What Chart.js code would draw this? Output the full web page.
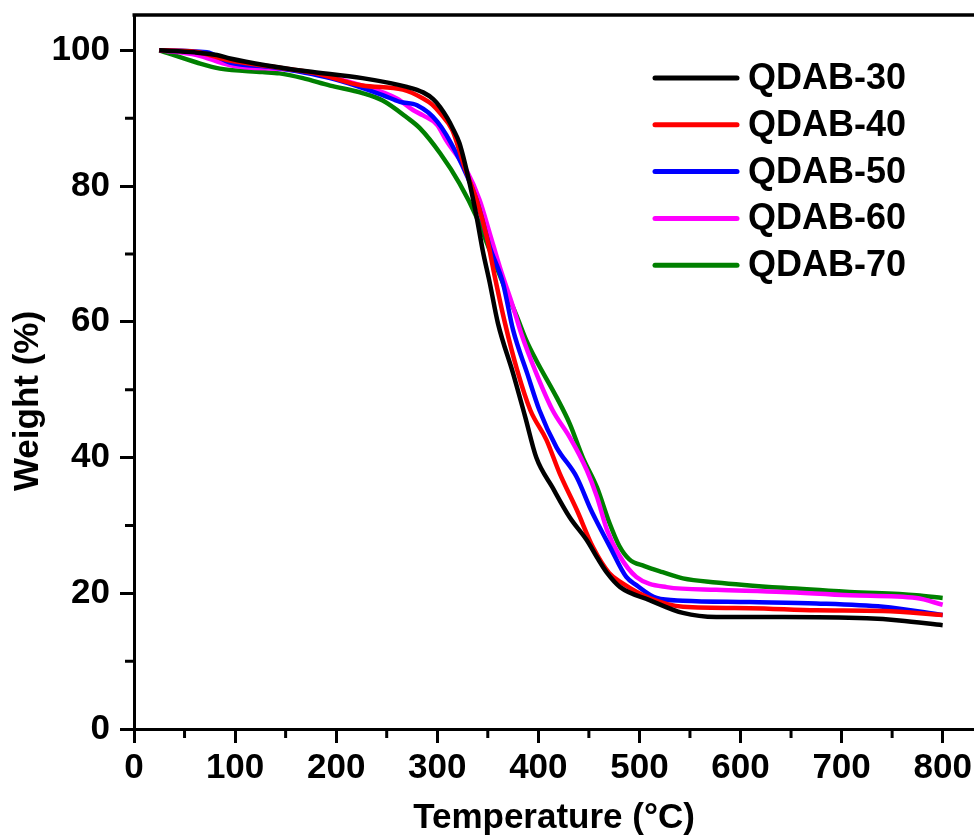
<!DOCTYPE html>
<html>
<head>
<meta charset="utf-8">
<script src="https://cdn.jsdelivr.net/npm/chart.js@4.4.1/dist/chart.umd.min.js"></script>
<style>
  html, body { margin: 0; padding: 0; background: #fff; overflow: hidden; }
  #wrap { width: 974px; height: 836px; position: relative; }
</style>
</head>
<body>
<div id="wrap"><canvas id="tga"></canvas></div>
<script>
// TGA curves (temperature in °C, weight in %)
var seriesNames = ['QDAB-30', 'QDAB-40', 'QDAB-50', 'QDAB-60', 'QDAB-70'];
var seriesColors = ['#000000', '#ff0000', '#0000ff', '#ff00ff', '#008000'];

var t30 = [25, 60, 82, 95, 130, 171, 226, 270, 286, 296, 303, 310, 316, 322, 332, 339, 345, 352, 360, 375, 387, 398, 414, 431, 448, 458, 468, 481, 510, 543, 576, 642, 725, 757, 800];
var w30 = [100, 99.7, 99.3, 98.8, 97.8, 96.9, 95.9, 94.6, 93.8, 92.8, 91.6, 90, 88.3, 86.3, 80.4, 75.4, 70.5, 65.7, 59.8, 52.4, 46, 40, 35.6, 31.2, 27.8, 25.3, 23, 20.9, 19, 17.1, 16.5, 16.5, 16.3, 16, 15.3];

var t40 = [25, 60, 95, 141, 180, 226, 266, 286, 295, 303, 315, 327, 339, 349, 357, 367, 379, 392, 408, 421, 438, 454, 470, 483, 510, 543, 609, 675, 741, 800];
var w40 = [100, 99.8, 98.5, 97.5, 96.6, 94.8, 94.2, 92.9, 92, 90.7, 88.2, 82.8, 77.9, 72.5, 66.6, 59.8, 52.9, 47, 42.6, 37.7, 32.3, 26.8, 23, 21.5, 19.3, 18, 17.8, 17.5, 17.4, 16.8];

var t50 = [25, 72, 95, 137, 194, 246, 263, 280, 300, 319, 339, 352, 365, 375, 389, 401, 418, 438, 452, 458, 471, 487, 497, 517, 543, 609, 675, 741, 800];
var w50 = [100, 99.7, 98.2, 97.5, 95.9, 93.4, 92.4, 91.9, 89.5, 84.8, 77.9, 71, 65.7, 58.8, 52.4, 47, 41.5, 37.1, 32.3, 30.5, 26.8, 22.4, 21.2, 19.3, 18.9, 18.7, 18.5, 18, 16.8];

var t60 = [25, 62, 95, 161, 226, 260, 276, 286, 300, 309, 329, 342, 352, 362, 375, 383, 398, 414, 431, 448, 458, 468, 480, 497, 527, 576, 642, 708, 774, 800];
var w60 = [100, 99.3, 97.8, 97, 94.8, 92.9, 91.2, 90.4, 89, 86.7, 82.3, 77.9, 73, 68, 62.2, 58.3, 52.4, 47, 43, 38.1, 34.2, 29.3, 25.6, 22.4, 20.9, 20.5, 20.2, 19.7, 19.3, 18.3];

var t70 = [25, 62, 85, 127, 144, 167, 194, 226, 246, 270, 283, 303, 322, 339, 352, 365, 379, 388, 398, 418, 431, 444, 458, 470, 480, 490, 505, 523, 543, 576, 642, 708, 774, 800];
var w70 = [100, 98.2, 97.3, 96.8, 96.6, 95.9, 94.8, 93.7, 92.6, 90.1, 88.5, 84.8, 80.4, 75.4, 70.5, 65.7, 60.7, 57.3, 54.3, 48.9, 45, 40, 35.6, 30.5, 27, 25, 24, 23.1, 22.2, 21.6, 20.8, 20.2, 19.7, 19.3];

var temps = [t30, t40, t50, t60, t70];
var weights = [w30, w40, w50, w60, w70];

var xMajorTicks = [0, 100, 200, 300, 400, 500, 600, 700, 800];
var xMinorTicks = [50, 150, 250, 350, 450, 550, 650, 750];
var yMajorTicks = [0, 20, 40, 60, 80, 100];
var yMinorTicks = [10, 30, 50, 70, 90];

var FONT = "'Liberation Sans', Arial, sans-serif";

function toPoints(xs, ys) {
    return xs.map(function(x, i) { return { x: x, y: ys[i] }; });
}

var datasets = seriesNames.map(function(name, i) {
    return {
        label: name,
        data: toPoints(temps[i], weights[i]),
        borderColor: seriesColors[i],
        backgroundColor: seriesColors[i],
        borderWidth: 4.5,
        pointRadius: 0,
        cubicInterpolationMode: 'monotone',
        fill: false
    };
});

var frameAndLegend = {
    id: 'frameAndLegend',
    afterDraw: function(chart) {
        var ctx = chart.ctx;
        var area = chart.chartArea;
        var xs = chart.scales.x, ys = chart.scales.y;
        ctx.save();
        // top frame line
        ctx.strokeStyle = '#000';
        ctx.lineWidth = 3.5;
        ctx.beginPath();
        ctx.moveTo(area.left - 1.5, area.top);
        ctx.lineTo(area.right, area.top);
        ctx.stroke();
        // minor ticks
        ctx.lineWidth = 3;
        ctx.beginPath();
        xMinorTicks.forEach(function(v) {
            var px = xs.getPixelForValue(v);
            ctx.moveTo(px, area.bottom);
            ctx.lineTo(px, area.bottom + 9);
        });
        yMinorTicks.forEach(function(v) {
            var py = ys.getPixelForValue(v);
            ctx.moveTo(area.left, py);
            ctx.lineTo(area.left - 9, py);
        });
        ctx.stroke();
        // y axis title (sits a little below the axis centre in the original)
        ctx.fillStyle = '#000';
        ctx.font = 'bold 35px ' + FONT;
        ctx.textAlign = 'center';
        ctx.textBaseline = 'middle';
        ctx.translate(28, 401);
        ctx.rotate(-Math.PI / 2);
        ctx.fillText('Weight (%)', 0, 0);
        ctx.setTransform(1, 0, 0, 1, 0, 0);
        // legend
        ctx.font = 'bold 36px ' + FONT;
        ctx.textAlign = 'left';
        chart.data.datasets.forEach(function(ds, i) {
            var y = 78 + i * 46.8;
            ctx.strokeStyle = ds.borderColor;
            ctx.lineWidth = 5;
            ctx.lineCap = 'round';
            ctx.beginPath();
            ctx.moveTo(655, y);
            ctx.lineTo(737, y);
            ctx.stroke();
            ctx.fillStyle = '#000';
            ctx.fillText(ds.label, 748, y + 1);
        });
        ctx.restore();
    }
};

var tgaChart = new Chart(document.getElementById('tga'), {
    type: 'line',
    data: { datasets: datasets },
    options: {
        animation: false,
        responsive: true,
        maintainAspectRatio: false,
        layout: { padding: { top: 15, right: 0, bottom: 0, left: 0 } },
        plugins: {
            legend: { display: false },
            tooltip: { enabled: false }
        },
        scales: {
            x: {
                type: 'linear',
                min: 0,
                max: 831,
                afterFit: function(scale) {
                    scale.height = 107;
                    scale.paddingLeft = 0;
                    scale.paddingRight = 0;
                },
                afterBuildTicks: function(scale) {
                    scale.ticks = xMajorTicks.map(function(v) { return { value: v }; });
                },
                border: { display: true, color: '#000', width: 3 },
                grid: { drawOnChartArea: false, drawTicks: true, tickLength: 14, tickWidth: 3, tickColor: '#000' },
                ticks: {
                    color: '#000',
                    padding: 4,
                    maxRotation: 0,
                    font: { family: FONT, size: 35, weight: 'bold' }
                },
                title: {
                    display: true,
                    text: 'Temperature (°C)',
                    color: '#000',
                    padding: { top: 0, bottom: 0 },
                    font: { family: FONT, size: 35, weight: 'bold', lineHeight: 1.0 }
                }
            },
            y: {
                type: 'linear',
                min: 0,
                max: 105.2,
                afterFit: function(scale) {
                    scale.width = 134;
                    scale.paddingTop = 0;
                    scale.paddingBottom = 0;
                },
                afterBuildTicks: function(scale) {
                    scale.ticks = yMajorTicks.map(function(v) { return { value: v }; });
                },
                border: { display: true, color: '#000', width: 3 },
                grid: { drawOnChartArea: false, drawTicks: true, tickLength: 14, tickWidth: 3, tickColor: '#000' },
                ticks: {
                    color: '#000',
                    padding: 10,
                    font: { family: FONT, size: 35, weight: 'bold' }
                },
                title: { display: false }
            }
        }
    },
    plugins: [frameAndLegend]
});
</script>
</body>
</html>
